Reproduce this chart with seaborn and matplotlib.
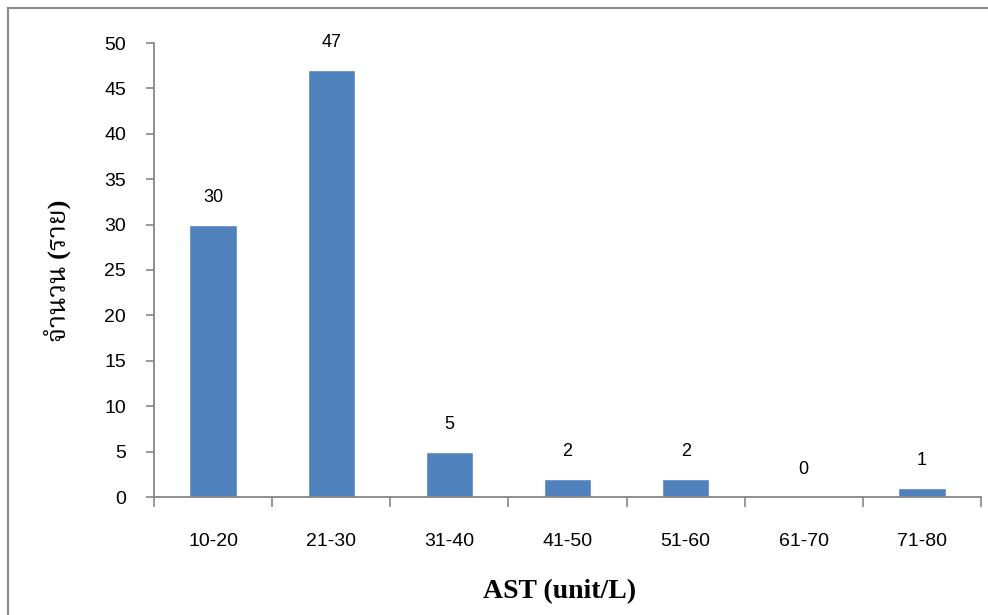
import matplotlib
matplotlib.use("Agg")
import matplotlib.pyplot as plt
from matplotlib import font_manager as fm
from matplotlib.patches import Rectangle
import seaborn as sns
import pandas as pd

# AST ranges and number of cases in each range
categories = ["10-20", "21-30", "31-40", "41-50", "51-60", "61-70", "71-80"]
counts = [30, 47, 5, 2, 2, 0, 1]
y_ticks = [0, 5, 10, 15, 20, 25, 30, 35, 40, 45, 50]
x_title = "AST (unit/L)"
y_title = "จำนวน (ราย)"

BAR_COLOR = "#4F81BD"
AXIS_COLOR = "#868686"
FRAME_COLOR = "#8C8C8C"

sns.set_style("white")
plt.rcParams["font.family"] = ["Liberation Sans", "DejaVu Sans"]
plt.rcParams["text.color"] = "black"

installed = {f.name for f in fm.fontManager.ttflist}
thai_pref = ["Noto Serif Thai", "Noto Sans Thai Looped", "Taviraj", "Trirong",
             "Sarabun", "Noto Sans Thai", "Athiti"]
thai_font = next((n for n in thai_pref if n in installed), "Athiti")

df = pd.DataFrame({"range": categories, "count": counts})

fig = plt.figure(figsize=(9.88, 6.15), dpi=100)
ax = fig.add_axes([154 / 988, 1 - 497 / 615, 827 / 988, 454 / 615])

sns.barplot(data=df, x="range", y="count", color=BAR_COLOR, saturation=1,
            width=0.4, ax=ax)

ax.set_xlim(-0.5, len(categories) - 0.5)
ax.set_ylim(0, 50)
ax.set_yticks(y_ticks)

# category boundaries carry the ticks, centres carry the labels
ax.set_xticks([i - 0.5 for i in range(len(categories) + 1)])
ax.set_xticklabels([])
ax.set_xticks(range(len(categories)), minor=True)
ax.set_xticklabels(categories, minor=True)
ax.tick_params(axis="x", which="major", bottom=True, length=7, width=1.2,
               color=AXIS_COLOR, direction="out")
ax.tick_params(axis="x", which="minor", bottom=True, length=0, pad=26,
               labelsize=14, labelcolor="black")
ax.tick_params(axis="y", left=True, length=6, width=1.2, color=AXIS_COLOR,
               direction="out", pad=14, labelsize=14, labelcolor="black")

for side in ("top", "right"):
    ax.spines[side].set_visible(False)
for side in ("left", "bottom"):
    ax.spines[side].set_color(AXIS_COLOR)
    ax.spines[side].set_linewidth(1.3)

ax.set_xlabel("")
ax.set_ylabel("")

for i, v in enumerate(counts):
    ax.annotate(str(v), (i, v), xytext=(0, 16.5), textcoords="offset points",
                ha="center", va="baseline", fontsize=13, color="black")

fig.text(560 / 988, 1 - 592 / 615, x_title, ha="center", va="center",
         fontsize=20, fontweight="bold", family=["Liberation Serif"])
fig.text(57 / 988, 1 - 271 / 615, y_title, ha="center", va="center",
         rotation=90, fontsize=19, fontweight="bold",
         family=["Liberation Serif", thai_font])

# outer chart frame
fig.patches.append(Rectangle((8 / 988, -0.1), 1.2, 1 - 8 / 615 + 0.1,
                             transform=fig.transFigure, fill=False,
                             edgecolor=FRAME_COLOR, linewidth=1.5))

fig.savefig("out.png", dpi=100)
